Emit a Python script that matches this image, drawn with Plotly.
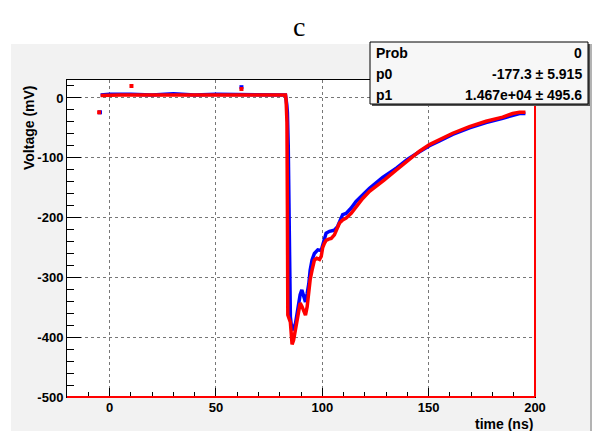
import plotly.graph_objects as go

# waveform samples (time in ns, voltage in mV)
red_t = [-4.2, 0, 5, 10, 20, 30, 40, 50, 60, 70, 75, 80, 82.7, 83.0, 83.2, 83.4, 83.6, 83.8,
         85.0, 85.4, 85.8, 86.5, 87.4, 88.0, 89.0, 89.6, 90.5, 91.3, 92.1, 92.9, 93.7, 94.3,
         95.2, 96.3, 97.4, 98.7, 99.5, 100.2, 101.0, 101.8, 103.0, 104.2, 105.7, 106.8, 108.1,
         109.6, 111.2, 113.6, 115.9, 119.0, 122.2, 125.3, 129.2, 135, 140, 145.7, 150.4, 155.1,
         161.3, 169.2, 177.0, 184.8, 189.5, 192.7, 195.5]
red_v = [4, 5, 5, 5, 5, 6, 5, 5, 5, 5, 6, 5, 5, -4, -24, -41, -180, -363,
         -375, -394, -412, -405, -388, -377, -355, -343, -349, -355, -363, -349, -321, -304,
         -288, -271, -268, -270, -265, -250, -243, -238, -236, -235, -229, -221, -209,
         -204, -201, -193, -182, -168, -156, -148, -137, -120, -105, -89, -78, -70,
         -59, -48, -39, -32, -26, -24, -24]

blue_t = [-4.2, 0, 10, 20, 30, 40, 50, 60, 70, 80, 82.7, 83.3, 83.6, 84.0, 84.3, 84.6,
          85.0, 85.6, 86.2, 87.4, 88.5, 89.6, 90.4, 91.3, 92.1, 92.9, 93.7, 94.3, 95.2, 96.3,
          97.9, 99.5, 100.6, 101.8, 103.4, 105.7, 107.2, 108.4, 109.6, 111.2, 113.6, 115.9,
          119.0, 122.2, 125.3, 128.4, 135, 140, 145.7, 150.4, 155.1, 161.3, 169.2, 177.0,
          184.8, 189.5, 192.7, 195.5]
blue_v = [5, 6, 6, 5, 7, 5, 6, 6, 5, 6, 5, -11, -24, -80, -200, -330,
          -366, -385, -388, -377, -349, -329, -321, -332, -341, -327, -310, -288, -271, -260,
          -254, -255, -240, -226, -223, -221, -215, -204, -195, -193, -184, -173,
          -162, -151, -142, -133, -117, -103, -90, -80, -72, -61, -50, -41,
          -34, -29, -26, -26]

# stray single samples
red_out_t = [-4.9, 10.3, 62]
red_out_v = [-24, 20, 15]
blue_out_t = [-4.5, 62]
blue_out_v = [-24, 18]

x_ticks = [0, 50, 100, 150, 200]
x_labels = ["0", "50", "100", "150", "200"]
y_ticks = [-500, -400, -300, -200, -100, 0]
y_labels = ["-500", "-400", "-300", "-200", "-100", "0"]

stats_rows = [("Prob", "0"), ("p0", "-177.3 \u00b1 5.915"), ("p1", "1.467e+04 \u00b1 495.6")]

# page pixels; the page body adds an 8 px offset around the figure
OFF = 8
L, R, T, B = 67, 535, 80, 397
W, H = R - L, B - T


def px(x):
    return (x - L) / W


def py(y):
    return (B - y) / H


fig = go.Figure()
fig.add_trace(go.Scatter(x=blue_t, y=blue_v, mode="lines",
                         line=dict(color="#0000ff", width=3.5)))
fig.add_trace(go.Scatter(x=blue_out_t, y=blue_out_v, mode="markers",
                         marker=dict(color="#0000ff", size=4, symbol="square")))
fig.add_trace(go.Scatter(x=red_t, y=red_v, mode="lines",
                         line=dict(color="#ff0000", width=3.5)))
fig.add_trace(go.Scatter(x=red_out_t, y=red_out_v, mode="markers",
                         marker=dict(color="#ff0000", size=4, symbol="square")))

bold = dict(family="Liberation Sans, Arial", size=13, color="black", weight="bold")
bold14 = dict(bold, size=14)

fig.update_xaxes(range=[-20, 200], tickvals=x_ticks, ticktext=x_labels, ticks="inside",
                 ticklen=9, tickcolor="black", showline=True, linecolor="black", mirror=True,
                 showgrid=True, gridcolor="#777777", griddash="dot", gridwidth=1,
                 zeroline=False, tickfont=bold, ticklabelstandoff=-2,
                 minor=dict(dtick=10, tick0=0, ticks="inside", ticklen=5, tickcolor="black",
                            showgrid=False))
fig.update_yaxes(range=[-500, 30], tickvals=y_ticks, ticktext=y_labels, ticks="inside",
                 ticklen=14, tickcolor="black", showline=True, linecolor="black", mirror=True,
                 showgrid=True, gridcolor="#777777", griddash="dot", gridwidth=1,
                 zeroline=False, tickfont=bold,
                 minor=dict(dtick=20, tick0=0, ticks="inside", ticklen=7, tickcolor="black",
                            showgrid=False))

shapes = [
    # grey pad
    dict(type="rect", xref="paper", yref="paper", x0=px(11), x1=px(590), y0=py(431), y1=py(44),
         fillcolor="#f2f2f2", line=dict(width=0), layer="below"),
    dict(type="line", xref="paper", yref="paper", x0=px(591), x1=px(591), y0=py(431), y1=py(44),
         line=dict(color="#9a9a9a", width=1.5)),
    # white frame background
    dict(type="rect", xref="paper", yref="paper", x0=0, x1=1, y0=0, y1=1,
         fillcolor="white", line=dict(width=0), layer="below"),
    # red edges of the frame
    dict(type="line", xref="paper", yref="paper", x0=0, x1=1, y0=0, y1=0,
         line=dict(color="#ff0000", width=2)),
    dict(type="line", xref="paper", yref="paper", x0=1, x1=1, y0=0, y1=1,
         line=dict(color="#ff0000", width=2)),
    # stats box shadow + box
    dict(type="rect", xref="paper", yref="paper", x0=px(372), x1=px(590), y0=py(106), y1=py(44),
         fillcolor="#555555", line=dict(width=0)),
    dict(type="rect", xref="paper", yref="paper", x0=px(370), x1=px(588), y0=py(104), y1=py(42),
         fillcolor="#f7f7f7", line=dict(color="black", width=1)),
]

annotations = [
    dict(text="c", x=px(299), y=py(27), xref="paper", yref="paper", showarrow=False,
         xanchor="center", yanchor="middle",
         font=dict(family="Liberation Serif, Times New Roman", size=28, color="black")),
    dict(text="Voltage (mV)", x=px(29), y=py(128), xref="paper", yref="paper", showarrow=False,
         xanchor="center", yanchor="middle", textangle=-90, font=bold14),
    dict(text="time (ns)", x=1.0, y=py(424), xref="paper", yref="paper", showarrow=False,
         xanchor="right", yanchor="middle", font=bold14),
]
for i, (name, val) in enumerate(stats_rows):
    yy = py(53 + 21 * i)
    annotations.append(dict(text=name, x=px(374), y=yy, xref="paper", yref="paper",
                            showarrow=False, xanchor="left", yanchor="middle", font=bold14))
    annotations.append(dict(text=val, x=px(584), y=yy, xref="paper", yref="paper",
                            showarrow=False, xanchor="right", yanchor="middle", font=bold14))

fig.update_layout(
    width=604 - OFF, height=431 - OFF,
    margin=dict(l=L - OFF, r=604 - R, t=T - OFF, b=431 - B, autoexpand=False),
    paper_bgcolor="white", plot_bgcolor="rgba(0,0,0,0)",
    showlegend=False,
    shapes=shapes, annotations=annotations,
)

fig.write_html("out.html")
